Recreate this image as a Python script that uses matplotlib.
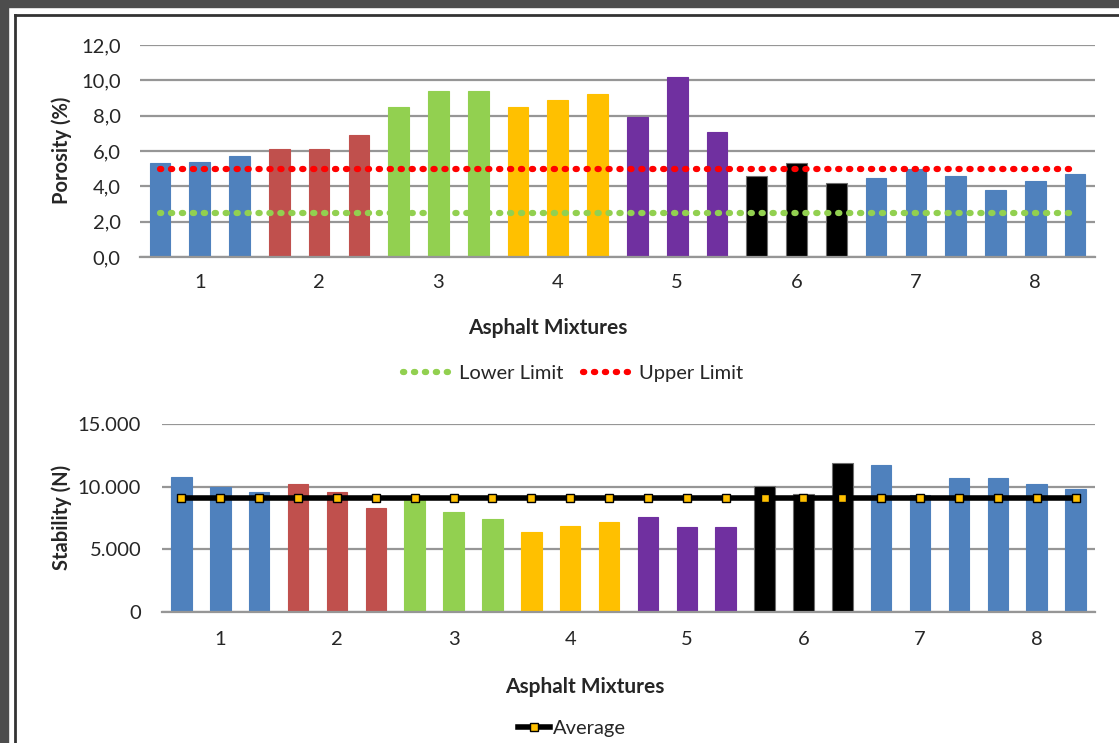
import matplotlib.pyplot as plt
from matplotlib.patches import Rectangle
from matplotlib.lines import Line2D
from matplotlib.ticker import FixedLocator, FuncFormatter

plt.rcParams['font.family'] = ['Lato', 'DejaVu Sans']

# 8 asphalt mixtures, 3 specimens each
mixtures = ['1', '2', '3', '4', '5', '6', '7', '8']
mixture_colors = ['#4F81BD', '#C0504D', '#92D050', '#FFC000',
                  '#7030A0', '#000000', '#4F81BD', '#4F81BD']

porosity = [5.3, 5.4, 5.7, 6.1, 6.1, 6.9, 8.5, 9.4, 9.4, 8.5, 8.9, 9.2,
            7.9, 10.2, 7.1, 4.6, 5.3, 4.2, 4.5, 5.0, 4.6, 3.8, 4.3, 4.7]
lower_limit = 2.5
upper_limit = 5.0

stability = [10800, 9950, 9600, 10200, 9600, 8330, 8950, 8000, 7400, 6400, 6900, 7200,
             7550, 6750, 6750, 10050, 9400, 11850, 11700, 9350, 10700, 10700, 10250, 9800]
stability_average = 9100

W, H = 1119, 743
n = len(porosity)
x = list(range(n))
bar_colors = [c for c in mixture_colors for _ in range(3)]
edge_colors = ['#6f6f6f' if c == '#000000' else c for c in bar_colors]
group_ticks = [1 + 3 * i for i in range(len(mixtures))]

text_color = '#262626'
grid_color = '#969696'
fs = 14.5

fig = plt.figure(figsize=(W / 100, H / 100), dpi=100)
fig.patch.set_facecolor('white')

# dark frame of the screenshot
fig.add_artist(Rectangle((0, 0), 8 / W, 1, transform=fig.transFigure, color='#4d4d4d', zorder=0))
fig.add_artist(Rectangle((0, 1 - 7 / H), 1, 7 / H, transform=fig.transFigure, color='#4d4d4d', zorder=0))
fig.add_artist(Line2D([14.5 / W, 14.5 / W], [0, 1 - 14.5 / H], transform=fig.transFigure, color='#333333', lw=2))
fig.add_artist(Line2D([14.5 / W, 1], [1 - 14.5 / H, 1 - 14.5 / H], transform=fig.transFigure, color='#333333', lw=2))


def style_axes(ax, xpad, ypad):
    for s in ['top', 'right', 'left']:
        ax.spines[s].set_visible(False)
    ax.spines['bottom'].set_color(grid_color)
    ax.spines['bottom'].set_linewidth(1.6)
    ax.set_xlim(-0.5, n - 0.5)
    ax.set_xticks(group_ticks)
    ax.set_xticklabels(mixtures)
    ax.tick_params(axis='both', length=0, labelsize=fs, colors=text_color)
    ax.tick_params(axis='x', pad=xpad)
    ax.tick_params(axis='y', pad=ypad)
    ax.yaxis.grid(True, color=grid_color, lw=1.6)
    ax.set_axisbelow(True)


# --- porosity ---
ax1 = fig.add_axes([140 / W, 1 - 257 / H, 955 / W, 212 / H])
ax1.bar(x, porosity, width=0.52, color=bar_colors, edgecolor=edge_colors, lw=0.8, zorder=2)
ax1.plot(x, [lower_limit] * n, color='#92D050', lw=4.5, linestyle=(0, (0.2, 1.55)),
         dash_capstyle='round', zorder=3, label='Lower Limit')
ax1.plot(x, [upper_limit] * n, color='#FF0000', lw=4.5, linestyle=(0, (0.2, 1.55)),
         dash_capstyle='round', zorder=3, label='Upper Limit')
ax1.set_ylim(0, 12)
ax1.yaxis.set_major_locator(FixedLocator([0, 2, 4, 6, 8, 10, 12]))
ax1.yaxis.set_major_formatter(FuncFormatter(lambda v, p: f'{v:.1f}'.replace('.', ',')))
style_axes(ax1, 12, 14)
ax1.text(-0.0817, 0.505, 'Porosity (%)', rotation=90, ha='center', va='center',
         transform=ax1.transAxes, fontsize=fs, fontweight='bold', color=text_color)
ax1.text(0.427, -0.335, 'Asphalt Mixtures', ha='center', va='center',
         transform=ax1.transAxes, fontsize=15, fontweight='bold', color=text_color)
leg1 = ax1.legend(loc='center', bbox_to_anchor=(573 / W, 1 - 373 / H),
                  bbox_transform=fig.transFigure, ncol=2, frameon=False, fontsize=fs,
                  handlelength=2.6, columnspacing=1.0, handletextpad=0.15)
for t in leg1.get_texts():
    t.set_color(text_color)

# --- stability ---
ax2 = fig.add_axes([162 / W, 1 - 612 / H, 933 / W, 188 / H])
ax2.bar(x, stability, width=0.53, color=bar_colors, edgecolor=edge_colors, lw=0.8, zorder=2)
ax2.plot(x, [stability_average] * n, color='black', lw=4, marker='s', markersize=6,
         markerfacecolor='#FFC000', markeredgecolor='black', markeredgewidth=1,
         zorder=3, label='Average')
ax2.set_ylim(0, 15000)
ax2.yaxis.set_major_locator(FixedLocator([0, 5000, 10000, 15000]))
ax2.yaxis.set_major_formatter(FuncFormatter(lambda v, p: f'{int(v):,}'.replace(',', '.')))
style_axes(ax2, 14, 15)
ax2.text(-0.107, 0.505, 'Stability (N)', rotation=90, ha='center', va='center',
         transform=ax2.transAxes, fontsize=fs, fontweight='bold', color=text_color)
ax2.text(0.453, -0.399, 'Asphalt Mixtures', ha='center', va='center',
         transform=ax2.transAxes, fontsize=15, fontweight='bold', color=text_color)
leg2 = ax2.legend(loc='center', bbox_to_anchor=(572 / W, 1 - 728 / H),
                  bbox_transform=fig.transFigure, frameon=False, fontsize=fs,
                  handlelength=1.6, handletextpad=0.15)
for t in leg2.get_texts():
    t.set_color(text_color)

fig.savefig('out.png', dpi=100)
